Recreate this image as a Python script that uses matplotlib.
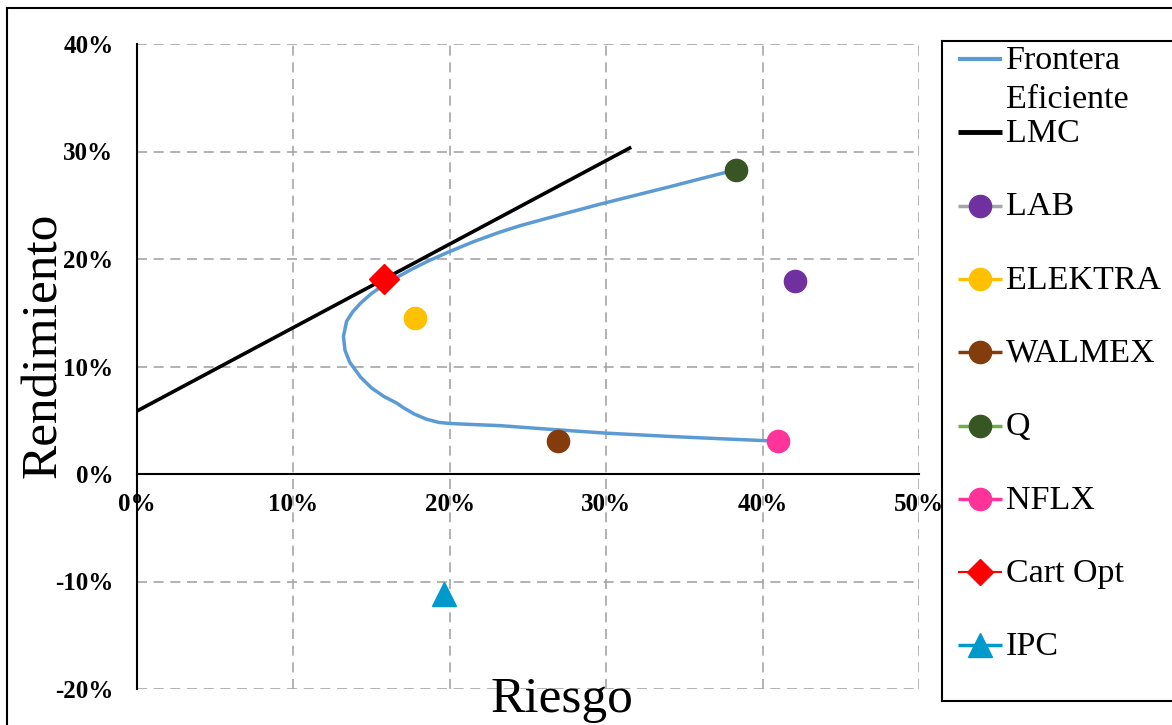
import matplotlib
matplotlib.use("Agg")
import matplotlib.pyplot as plt
from matplotlib.lines import Line2D
from matplotlib.ticker import FuncFormatter

plt.rcParams['font.family'] = ['Liberation Serif', 'DejaVu Serif']
plt.rcParams['axes.unicode_minus'] = False

# ---- data (fractions) ----
frontier_risk = [0.383, 0.360, 0.340, 0.318, 0.296, 0.278, 0.260, 0.245, 0.232, 0.215,
                 0.200, 0.186, 0.175, 0.165, 0.158, 0.150, 0.143, 0.138, 0.134, 0.132,
                 0.133, 0.136, 0.143, 0.150, 0.158, 0.166, 0.170, 0.177, 0.185, 0.193,
                 0.200, 0.215, 0.232, 0.260, 0.300, 0.340, 0.370, 0.402]
frontier_ret = [0.283, 0.2745, 0.267, 0.259, 0.251, 0.244, 0.237, 0.231, 0.225, 0.216,
                0.207, 0.198, 0.190, 0.182, 0.176, 0.168, 0.159, 0.151, 0.142, 0.128,
                0.115, 0.104, 0.090, 0.080, 0.072, 0.066, 0.062, 0.056, 0.051, 0.048,
                0.047, 0.046, 0.045, 0.042, 0.038, 0.035, 0.033, 0.031]
lmc_risk = [0.0, 0.316]
lmc_ret = [0.0586, 0.304]

assets = ['LAB', 'ELEKTRA', 'WALMEX', 'Q', 'NFLX']
asset_risk = [0.421, 0.178, 0.269, 0.383, 0.410]
asset_ret = [0.180, 0.145, 0.031, 0.283, 0.031]
asset_colors = ['#7030A0', '#FFC000', '#843C0C', '#375623', '#FF3399']
asset_line_colors = ['#A5A5A5', '#FFC000', '#843C0C', '#70AD47', '#FF3399']

opt_risk = [0.158]
opt_ret = [0.181]
ipc_risk = [0.196]
ipc_ret = [-0.112]

x_ticks = [0.0, 0.1, 0.2, 0.3, 0.4, 0.5]
y_ticks = [-0.2, -0.1, 0.0, 0.1, 0.2, 0.3, 0.4]

legend_labels = ['Frontera\nEficiente', 'LMC'] + assets + ['Cart Opt', 'IPC']

# ---- figure ----
W, H = 1172, 725
fig = plt.figure(figsize=(W / 100, H / 100), dpi=100)

def px_rect(x0, y0, x1, y1):
    return [x0 / W, 1 - y1 / H, (x1 - x0) / W, (y1 - y0) / H]

pct = FuncFormatter(lambda v, p: f"{round(v * 100):d}%")

ax = fig.add_axes(px_rect(137, 44, 919, 689))
ax.set_xlim(0, 0.5)
ax.set_ylim(-0.2, 0.4)
ax.set_xticks(x_ticks)
ax.set_yticks(y_ticks)
ax.xaxis.set_major_formatter(pct)
ax.yaxis.set_major_formatter(pct)
ax.grid(True, color='#A6A6A6', linestyle=(0, (6, 4)), linewidth=1.2)
ax.set_axisbelow(True)
for s in ['top', 'right']:
    ax.spines[s].set_visible(False)
ax.spines['bottom'].set_position(('data', 0))
ax.spines['bottom'].set_linewidth(1.5)
ax.spines['left'].set_linewidth(1.5)
ax.tick_params(axis='both', length=0, labelsize=18)
ax.tick_params(axis='y', pad=17)
ax.tick_params(axis='x', pad=14)
for lab in ax.get_xticklabels() + ax.get_yticklabels():
    lab.set_fontweight('bold')

ax.plot(lmc_risk, lmc_ret, color='black', lw=2.6, solid_capstyle='butt', zorder=3)
ax.plot(frontier_risk, frontier_ret, color='#5B9BD5', lw=2.5, zorder=4,
        solid_joinstyle='round')
for r, m, c in zip(asset_risk, asset_ret, asset_colors):
    ax.plot([r], [m], 'o', color=c, ms=16, mec=c, zorder=5)
ax.plot(opt_risk, opt_ret, 'D', color='#FF0000', ms=15, mec='#FF0000', zorder=6)
ax.plot(ipc_risk, ipc_ret, '^', color='#0099CC', ms=17, mec='#0099CC', zorder=5)

fig.text(44 / W, 1 - 345 / H, 'Rendimiento', rotation=90, fontsize=37,
         ha='center', va='center')
fig.text(562 / W, 1 - 712 / H, 'Riesgo', fontsize=37, ha='center', va='baseline')

# outer border (top and left visible)
fig.add_artist(Line2D([7 / W, 7 / W], [0, 1 - 8 / H], color='black', lw=1.5,
                      transform=fig.transFigure))
fig.add_artist(Line2D([7 / W, 1], [1 - 8 / H, 1 - 8 / H], color='black', lw=1.5,
                      transform=fig.transFigure))

# ---- legend box ----
lax = fig.add_axes(px_rect(942, 41, 1172, 701))
lax.set_xlim(942, 1172)
lax.set_ylim(701, 41)
lax.set_xticks([])
lax.set_yticks([])
for s in ['left', 'top', 'bottom']:
    lax.spines[s].set_linewidth(1.5)
lax.spines['right'].set_visible(False)

handles = [
    dict(color='#5B9BD5', lw=3, marker=None, mfc=None),
    dict(color='black', lw=3.5, marker=None, mfc=None),
] + [dict(color=lc, lw=2.5, marker='o', mfc=c, ms=16)
     for lc, c in zip(asset_line_colors, asset_colors)] + [
    dict(color='#FF0000', lw=1.5, marker='D', mfc='#FF0000', ms=13),
    dict(color='#0099CC', lw=2.5, marker='^', mfc='#0099CC', ms=17),
]

y0, dy = 59, 73.3
for i, (lab, h) in enumerate(zip(legend_labels, handles)):
    y = y0 + i * dy
    lax.plot([958, 1002], [y, y], color=h['color'], lw=h['lw'],
             solid_capstyle='butt')
    if h['marker']:
        lax.plot([980], [y], marker=h['marker'], color=h['mfc'], mec=h['mfc'],
                 ms=h['ms'], ls='none')
    for k, line in enumerate(lab.split('\n')):
        lax.text(1006, y + 1.5 + k * 39, line, fontsize=24.5, ha='left', va='center')

fig.savefig('out.png', dpi=100)
